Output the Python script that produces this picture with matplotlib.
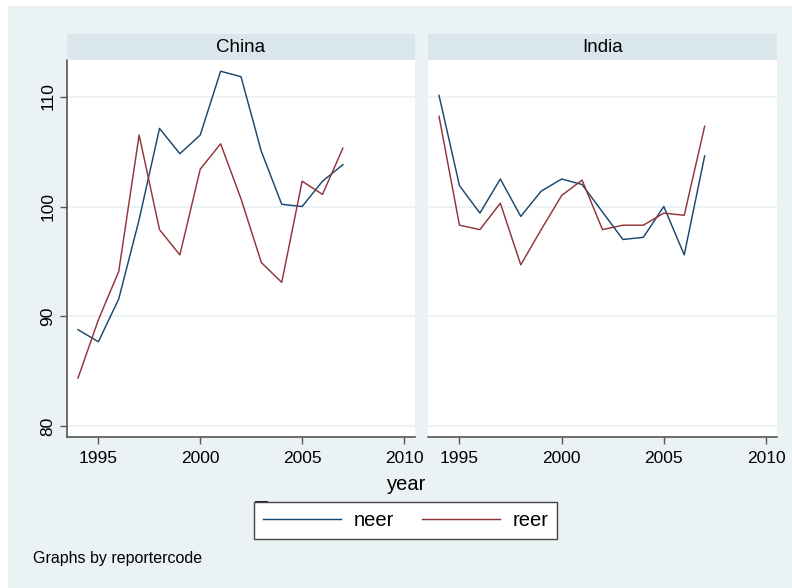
"""
Nominal and real effective exchange rates by reporter, 1994-2007.
"""

import matplotlib
matplotlib.use("Agg")
import matplotlib.pyplot as plt
from matplotlib.patches import Rectangle
from matplotlib.lines import Line2D

plt.rcParams['font.family'] = ['Liberation Sans', 'DejaVu Sans']

years = [1994, 1995, 1996, 1997, 1998, 1999, 2000, 2001, 2002, 2003, 2004, 2005, 2006, 2007]

china_neer = [88.8, 87.7, 91.6, 98.8, 107.1, 104.8, 106.5, 112.3, 111.8, 105.0, 100.2, 100.0, 102.3, 103.8]
china_reer = [84.4, 89.7, 94.1, 106.5, 97.9, 95.6, 103.4, 105.7, 100.7, 94.9, 93.1, 102.3, 101.1, 105.3]

india_neer = [110.1, 101.9, 99.4, 102.5, 99.1, 101.4, 102.5, 102.0, 99.5, 97.0, 97.2, 100.0, 95.6, 104.6]
india_reer = [108.2, 98.3, 97.9, 100.3, 94.7, 97.9, 101.0, 102.4, 97.9, 98.3, 98.3, 99.4, 99.2, 107.3]

panels = ["China", "India"]
series_names = ["neer", "reer"]
xticks = [1995, 2000, 2005, 2010]
yticks = [80, 90, 100, 110]

BG = "#EAF2F3"
STRIP = "#D9E6EB"
NAVY = "#1A476F"
MAROON = "#90353B"
AXIS = "#555555"

W, H = 792, 588
fig = plt.figure(figsize=(W / 100, H / 100), dpi=100, facecolor="white")

# outer graph region
fig.patches.append(Rectangle((8 / W, 0), 1 - 8 / W, 1 - 6 / H,
                             transform=fig.transFigure, facecolor=BG,
                             edgecolor="none", zorder=-10))


def px_box(x0, y0, x1, y1):
    return [x0 / W, 1 - y1 / H, (x1 - x0) / W, (y1 - y0) / H]


data = {"China": (china_neer, china_reer), "India": (india_neer, india_reer)}
lefts = {"China": (67, 415), "India": (428, 777)}

for name in panels:
    x0, x1 = lefts[name]
    ax = fig.add_axes(px_box(x0, 60, x1, 436.7))
    ax.set_facecolor("white")
    neer, reer = data[name]
    ax.plot(years, neer, color=NAVY, lw=1.05, label=series_names[0])
    ax.plot(years, reer, color=MAROON, lw=1.05, label=series_names[1])
    ax.set_xlim(1993.46, 2010.54)
    ax.set_ylim(79.07, 113.32)
    ax.set_xticks(xticks)
    ax.set_yticks(yticks)
    ax.grid(axis="y", color=BG, lw=1.3)
    ax.set_axisbelow(True)
    for s in ("top", "right"):
        ax.spines[s].set_visible(False)
    ax.spines["bottom"].set_color(AXIS)
    ax.spines["bottom"].set_linewidth(1.2)
    ax.tick_params(axis="x", length=5, width=1, color=AXIS, labelsize=12.5, pad=5.5)
    if name == "China":
        ax.spines["left"].set_color(AXIS)
        ax.spines["left"].set_linewidth(1.2)
        ax.tick_params(axis="y", length=5, width=1, color=AXIS, labelsize=12.5, pad=3.5)
        for lab in ax.get_yticklabels():
            lab.set_rotation(90)
            lab.set_va("center")
    else:
        ax.spines["left"].set_visible(False)
        ax.tick_params(axis="y", left=False, labelleft=False)

    # panel title strip
    sx = fig.add_axes(px_box(x0, 34, x1, 60))
    sx.set_facecolor(STRIP)
    sx.set_xticks([])
    sx.set_yticks([])
    for s in sx.spines.values():
        s.set_visible(False)
    sx.text(0.5, 0.5, name, ha="center", va="center", fontsize=13.5,
            transform=sx.transAxes)

    if name == "China":
        handles, labels = ax.get_legend_handles_labels()

fig.text(406.7 / W, 1 - 485 / H, "year", ha="center", va="center", fontsize=14.5)

leg = fig.legend(handles, labels, loc="center", ncol=2,
                 bbox_to_anchor=(405.5 / W, 1 - 520.8 / H),
                 fontsize=14.5, frameon=True, fancybox=False,
                 edgecolor="#444444", facecolor="white", framealpha=1,
                 handlelength=3.9, handletextpad=0.6, columnspacing=1.4,
                 borderpad=0.45, borderaxespad=0)
leg.get_frame().set_linewidth(1.0)

# small dark mark on the legend's top-left corner
fig.add_artist(Line2D([256 / W, 266 / W], [1 - 502 / H, 1 - 502 / H],
                      transform=fig.transFigure, color="black", lw=2))

fig.text(33 / W, 1 - 558 / H, "Graphs by reportercode", ha="left", va="center",
         fontsize=11.5)

fig.savefig("out.png", dpi=100, facecolor=fig.get_facecolor())
